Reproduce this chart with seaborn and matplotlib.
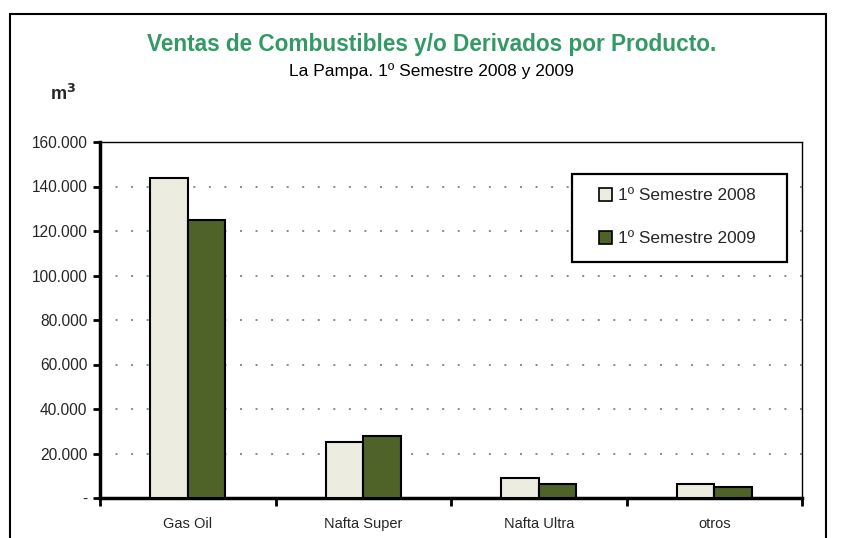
import matplotlib
matplotlib.use("Agg")
import matplotlib.pyplot as plt
import matplotlib.patches as mpatches
from matplotlib.ticker import FuncFormatter, FixedLocator
import seaborn as sns
import pandas as pd

categories = ["Gas Oil", "Nafta Super", "Nafta Ultra", "otros"]
series_names = ["1º Semestre 2008", "1º Semestre 2009"]
values_2008 = [143800, 25000, 8900, 6200]
values_2009 = [124900, 27700, 6200, 5100]
y_ticks = [0, 20000, 40000, 60000, 80000, 100000, 120000, 140000, 160000]

df = pd.DataFrame({
    "Producto": categories * 2,
    "Serie": [series_names[0]] * 4 + [series_names[1]] * 4,
    "m3": values_2008 + values_2009,
})

sns.set_theme(style="white")
plt.rcParams["font.family"] = ["Liberation Sans", "DejaVu Sans"]

fig = plt.figure(figsize=(8.42, 5.38), dpi=100)
ax = fig.add_axes([100 / 842, 1 - 498 / 538, 702 / 842, 356 / 538])

palette = {series_names[0]: "#ECECE0", series_names[1]: "#4F6228"}
sns.barplot(data=df, x="Producto", y="m3", hue="Serie", order=categories,
            hue_order=series_names, palette=palette, width=0.43, gap=0,
            edgecolor="black", linewidth=1.5, saturation=1, ax=ax, legend=False,
            zorder=3)

ax.set_xlim(-0.5, 3.5)
ax.set_ylim(0, 160000)
ax.yaxis.set_major_locator(FixedLocator(y_ticks))
ax.yaxis.set_major_formatter(FuncFormatter(
    lambda v, p: "-" if v == 0 else f"{int(v):,}".replace(",", ".")))
ax.tick_params(axis="y", which="major", direction="out", length=5, width=2,
               color="black", labelsize=11.2, pad=4, left=True)
ax.tick_params(axis="x", which="major", length=0, pad=14, labelsize=10.5)
ax.set_xticks([-0.5, 0.5, 1.5, 2.5, 3.5], minor=True)
ax.tick_params(axis="x", which="minor", direction="out", length=6, width=2,
               color="black", bottom=True)
ax.set_xlabel("")
ax.set_ylabel("")

for y in y_ticks[1:-1]:
    ax.axhline(y, color="#6f9688", linestyle=(0, (1, 7)), linewidth=1.4, zorder=1)

for side in ["left", "bottom"]:
    ax.spines[side].set_linewidth(2.5)
    ax.spines[side].set_color("black")
for side in ["top", "right"]:
    ax.spines[side].set_linewidth(1)
    ax.spines[side].set_color("black")

# legend box
box = mpatches.Rectangle((0.672, 0.663), 0.306, 0.247, transform=ax.transAxes,
                         facecolor="white", edgecolor="black", linewidth=1.6,
                         zorder=5, clip_on=False)
ax.add_patch(box)
handles = [mpatches.Patch(facecolor=palette[s], edgecolor="black", linewidth=1.2)
           for s in series_names]
leg = ax.legend(handles, series_names, loc="center left", bbox_to_anchor=(0.711, 0.789),
                frameon=False, handlelength=0.75, handleheight=0.75,
                handletextpad=0.35, labelspacing=1.6, borderpad=0,
                borderaxespad=0, fontsize=12.4)
leg.set_zorder(6)

fig.text(432 / 842, 1 - 45 / 538, "Ventas de Combustibles y/o Derivados por Producto.",
         ha="center", va="center", color="#339966", fontsize=16.3, fontweight="bold")
fig.text(431 / 842, 1 - 71 / 538, "La Pampa. 1º Semestre 2008 y 2009",
         ha="center", va="center", color="black", fontsize=12.5)
fig.text(50 / 842, 1 - 94 / 538, "m$^{\\mathbf{3}}$", ha="left", va="center",
         fontsize=13, fontweight="bold")

frame = mpatches.Rectangle((10 / 842, -0.05), 816 / 842, 0.05 + 1 - 14 / 538,
                           transform=fig.transFigure, fill=False,
                           edgecolor="black", linewidth=1.5, clip_on=False)
fig.patches.append(frame)

fig.savefig("out.png", dpi=100, facecolor="white")
